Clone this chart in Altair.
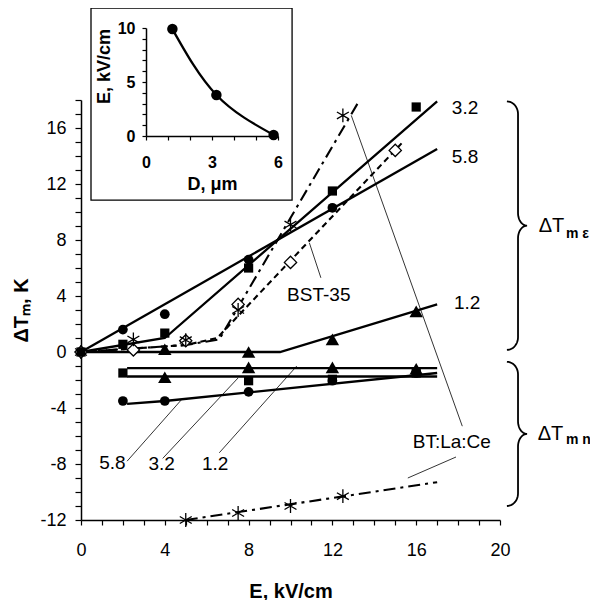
import altair as alt
import pandas as pd
import numpy as np

F = "Liberation Sans"
K = "#000000"

# ---------------- main chart data (E in kV/cm, dT in K) ----------------
# upper group (dT_m eps)
sq_eps_x = [0, 2, 4, 8, 12, 16]
sq_eps_y = [0, 0.55, 1.35, 6.0, 11.5, 17.5]
ci_eps_x = [2, 4, 8, 12]
ci_eps_y = [1.6, 2.7, 6.6, 10.3]
tr_eps_x = [4, 8, 12, 16]
tr_eps_y = [0.2, 0.0, 0.9, 2.9]
di_bst_x = [0, 2.5, 5, 7.5, 10, 15]
di_bst_y = [0, 0.15, 0.8, 3.4, 6.4, 14.4]
as_bt_x = [0, 2.5, 5, 7.5, 10, 12.5]
as_bt_y = [0, 0.9, 0.85, 3.0, 9.1, 16.9]
# lower group (dT_m n)
tr_n_x = [4, 8, 12, 16]
tr_n_y = [-1.8, -1.1, -1.1, -1.2]
sq_n_x = [2, 8, 12, 16]
sq_n_y = [-1.5, -2.05, -1.95, -1.5]
ci_n_x = [2, 4, 8, 12, 16]
ci_n_y = [-3.5, -3.5, -2.85, -2.05, -1.5]
as_n_x = [5, 7.5, 10, 12.5]
as_n_y = [-12, -11.5, -11, -10.3]

# fitted lines
solid_lines = {
    "3.2e": ([0, 4, 17], [0, 1.0, 17.9]),
    "5.8e": ([0, 17], [0, 14.5]),
    "1.2e": ([0, 9.5, 17], [0, 0, 3.4]),
    "1.2n": ([2.2, 17], [-1.15, -1.15]),
    "3.2n": ([2.2, 17], [-1.75, -1.75]),
    "5.8n": ([2.2, 4, 17], [-3.7, -3.5, -1.5]),
}
bst_line_x = [0, 5, 6.5, 15.3]
bst_line_y = [0, 0.5, 1.0, 14.9]
bt_lines = {
    "up": ([0, 5, 6.6, 13.3], [0, 0.5, 0.9, 18.0]),
    "down": ([5, 17], [-12, -9.3]),
}

# annotation leaders (thin lines) and labels
leaders = {
    "bst": ([10.9, 11.45], [7.8, 5.3]),
    "bt1": ([12.9, 18.2], [16.9, -5.3]),
    "bt2": ([17.9, 15.6], [-7.5, -9.0]),
    "l58": ([2.2, 4.8], [-7.8, -3.4]),
    "l32": ([3.9, 7.5], [-7.6, -1.85]),
    "l12": ([6.6, 10.3], [-7.2, -1.0]),
}
lab_left_text = ["3.2", "5.8", "1.2"]
lab_left_x = [17.7, 17.7, 17.8]
lab_left_y = [17.4, 13.9, 3.5]
lab_c_text = ["BST-35", "BT:La:Ce", "5.8", "3.2", "1.2"]
lab_c_x = [11.35, 17.7, 1.5, 3.85, 6.4]
lab_c_y = [4.1, -6.4, -7.9, -8.0, -8.0]

# braces (top, bottom) and their labels
brace_top = [17.9, -0.7]
brace_bot = [0.15, -11.0]
brace_dt_x = [21.85, 21.8]
brace_dt_y = [9.0, -5.85]
brace_sub_text = ["m ε", "m n"]
brace_sub_x = [23.15, 23.15]
brace_sub_y = [8.45, -6.3]

# ---------------- inset data ----------------
ins_D = [1.2, 3.2, 5.8]
ins_E = [9.9, 3.8, 0.1]
frame_D = [-2.5, 6.64]
frame_E = [-5.93, 11.85]

# ---------------- build tables ----------------
def pts(x, y):
    return pd.DataFrame({"x": x, "y": y})

def lines_df(d):
    rows = []
    for k, (xs, ys) in d.items():
        for i, (a, b) in enumerate(zip(xs, ys)):
            rows.append({"s": k, "i": i, "x": a, "y": b})
    return pd.DataFrame(rows)

def brace_df():
    x0, xv, xt = 20.33, 20.86, 21.29
    ry = 0.9
    rows = []
    t = np.linspace(0, np.pi / 2, 12)
    for b, (T, B) in enumerate(zip(brace_top, brace_bot)):
        M = (T + B) / 2
        seq = []
        seq += list(zip(x0 + (xv - x0) * np.sin(t), T - ry * (1 - np.cos(t))))
        seq += list(zip(xv + (xt - xv) * (1 - np.cos(t)), M + ry * (1 - np.sin(t))))
        seq += list(zip(xv + (xt - xv) * (1 - np.cos(t[::-1])), M - ry * (1 - np.sin(t[::-1]))))
        seq += list(zip(x0 + (xv - x0) * np.sin(t[::-1]), B + ry * (1 - np.cos(t[::-1]))))
        for i, (a, c) in enumerate(seq):
            rows.append({"s": b, "i": i, "x": float(a), "y": float(c)})
    return pd.DataFrame(rows)

xaxis = alt.Axis(values=list(range(0, 21)),
                 labelExpr="datum.value % 4 === 0 ? toString(datum.value) : ''",
                 title="E, kV/cm", grid=False, tickSize=5, tickColor=K, tickWidth=1.2,
                 domainColor=K, domainWidth=1.5, labelFontSize=18, labelFont=F,
                 labelColor=K, labelPadding=16, labelOverlap=False, labelFlush=False,
                 titleFontSize=20, titleFontWeight="bold", titleFont=F, titleColor=K,
                 titlePadding=22)
yaxis = alt.Axis(values=list(range(-12, 19)),
                 labelExpr="datum.value % 4 === 0 && datum.value <= 16 ? toString(datum.value) : ''",
                 title="ΔTₘ, K", grid=False, tickSize=6, tickColor=K, tickWidth=1.2,
                 domainColor=K, domainWidth=1.5, labelFontSize=18, labelFont=F,
                 labelColor=K, labelPadding=9, labelOverlap=False, labelFlush=False,
                 titleFontSize=20, titleFontWeight="bold", titleFont=F, titleColor=K,
                 titlePadding=8)

X = alt.X("x:Q", scale=alt.Scale(domain=[0, 20], nice=False, zero=False), axis=xaxis)
Y = alt.Y("y:Q", scale=alt.Scale(domain=[-12, 18], nice=False, zero=False), axis=yaxis)

ASTER = "M0,-1L0,1M-0.866,-0.5L0.866,0.5M-0.866,0.5L0.866,-0.5"

base_layers = []
base_layers.append(alt.Chart(lines_df(leaders)).mark_line(color=K, strokeWidth=0.8)
                   .encode(x=X, y=Y, detail="s:N", order="i:Q"))
base_layers.append(alt.Chart(lines_df(solid_lines)).mark_line(color=K, strokeWidth=2.3)
                   .encode(x=X, y=Y, detail="s:N", order="i:Q"))
base_layers.append(alt.Chart(pts(bst_line_x, bst_line_y)).mark_line(color=K, strokeWidth=2.1, strokeDash=[6, 4])
                   .encode(x=X, y=Y))
base_layers.append(alt.Chart(lines_df(bt_lines)).mark_line(color=K, strokeWidth=2.1, strokeDash=[12, 5, 3, 5])
                   .encode(x=X, y=Y, detail="s:N", order="i:Q"))
base_layers.append(alt.Chart(brace_df()).mark_line(color=K, strokeWidth=1.8)
                   .encode(x=X, y=Y, detail="s:N", order="i:Q"))
# markers
base_layers.append(alt.Chart(pts(di_bst_x, di_bst_y)).mark_point(shape="diamond", filled=True, fill="white",
                   stroke=K, strokeWidth=1.3, size=150, opacity=1).encode(x=X, y=Y))
base_layers.append(alt.Chart(pts(sq_eps_x + sq_n_x, sq_eps_y + sq_n_y)).mark_point(shape="square", filled=True,
                   color=K, size=85, opacity=1).encode(x=X, y=Y))
base_layers.append(alt.Chart(pts(ci_eps_x + ci_n_x, ci_eps_y + ci_n_y)).mark_point(shape="circle", filled=True,
                   color=K, size=95, opacity=1).encode(x=X, y=Y))
base_layers.append(alt.Chart(pts(tr_eps_x + tr_n_x, tr_eps_y + tr_n_y)).mark_point(shape="triangle-up", filled=True,
                   color=K, size=180, opacity=1).encode(x=X, y=Y))
base_layers.append(alt.Chart(pts(as_bt_x + as_n_x, as_bt_y + as_n_y)).mark_point(shape=ASTER, filled=False,
                   color=K, strokeWidth=1.3, size=190, opacity=1).encode(x=X, y=Y))
# labels
base_layers.append(alt.Chart(pd.DataFrame({"x": lab_left_x, "y": lab_left_y, "t": lab_left_text}))
                   .mark_text(align="left", baseline="middle", font=F, fontSize=19, color=K)
                   .encode(x=X, y=Y, text="t:N"))
base_layers.append(alt.Chart(pd.DataFrame({"x": lab_c_x, "y": lab_c_y, "t": lab_c_text}))
                   .mark_text(align="center", baseline="middle", font=F, fontSize=19, color=K)
                   .encode(x=X, y=Y, text="t:N"))
base_layers.append(alt.Chart(pd.DataFrame({"x": brace_dt_x, "y": brace_dt_y, "t": ["ΔT", "ΔT"]}))
                   .mark_text(align="left", baseline="middle", font=F, fontSize=20, color=K)
                   .encode(x=X, y=Y, text="t:N"))
base_layers.append(alt.Chart(pd.DataFrame({"x": brace_sub_x, "y": brace_sub_y, "t": brace_sub_text}))
                   .mark_text(align="left", baseline="middle", font=F, fontSize=14, fontWeight="bold", color=K)
                   .encode(x=X, y=Y, text="t:N"))

main = alt.layer(*base_layers)

# ---------------- inset ----------------
ixaxis = alt.Axis(values=list(range(0, 7)), labelExpr="datum.value % 3 === 0 ? toString(datum.value) : ''",
                  title="D, μm", orient="bottom", offset=-384, grid=False, tickSize=4, tickColor=K,
                  tickWidth=1.2, domainColor=K, domainWidth=1.5, labelFontSize=16, labelFontWeight="bold",
                  labelFont=F, labelColor=K, labelPadding=14, labelOverlap=False, labelFlush=False,
                  titleFontSize=18, titleFontWeight="bold", titleFont=F, titleColor=K, titlePadding=5,
                  zindex=2)
iyaxis = alt.Axis(values=list(range(0, 11)), labelExpr="datum.value % 5 === 0 ? toString(datum.value) : ''",
                  title="E, kV/cm", orient="left", offset=-65, grid=False, tickSize=4, tickColor=K,
                  tickWidth=1.2, domainColor=K, domainWidth=1.5, labelFontSize=16, labelFontWeight="bold",
                  labelFont=F, labelColor=K, labelPadding=7, labelOverlap=False, labelFlush=False,
                  titleFontSize=18, titleFontWeight="bold", titleFont=F, titleColor=K, titlePadding=4,
                  titleY=-34, zindex=2)
IX = alt.X("D:Q", scale=alt.Scale(domain=[0, 6], range=[65, 197], nice=False, zero=False), axis=ixaxis)
IY = alt.Y("E:Q", scale=alt.Scale(domain=[0, 10], range=[36, -72], nice=False, zero=False), axis=iyaxis)

frame = alt.Chart(pd.DataFrame({"D": [frame_D[0]], "D2": [frame_D[1]], "E": [frame_E[0]], "E2": [frame_E[1]]})) \
    .mark_rect(fill="white", stroke=K, strokeWidth=1.3).encode(x=IX, x2="D2:Q", y=IY, y2="E2:Q")
ins_df = pd.DataFrame({"D": ins_D, "E": ins_E})
curve = alt.Chart(ins_df).mark_line(color=K, strokeWidth=2.3, interpolate="natural").encode(x=IX, y=IY)
dots = alt.Chart(ins_df).mark_point(shape="circle", filled=True, color=K, size=110, opacity=1).encode(x=IX, y=IY)
inset = alt.layer(frame, curve, dots)

chart = alt.layer(main, inset).resolve_scale(x="independent", y="independent").properties(
    width=419, height=420,
    autosize=alt.AutoSizeParams(type="none"),
    padding={"left": 73, "top": 92, "right": 90, "bottom": 80},
    background="white",
).configure_view(stroke=None)

chart.save("out.html", embed_options={"renderer": "svg", "actions": False})
